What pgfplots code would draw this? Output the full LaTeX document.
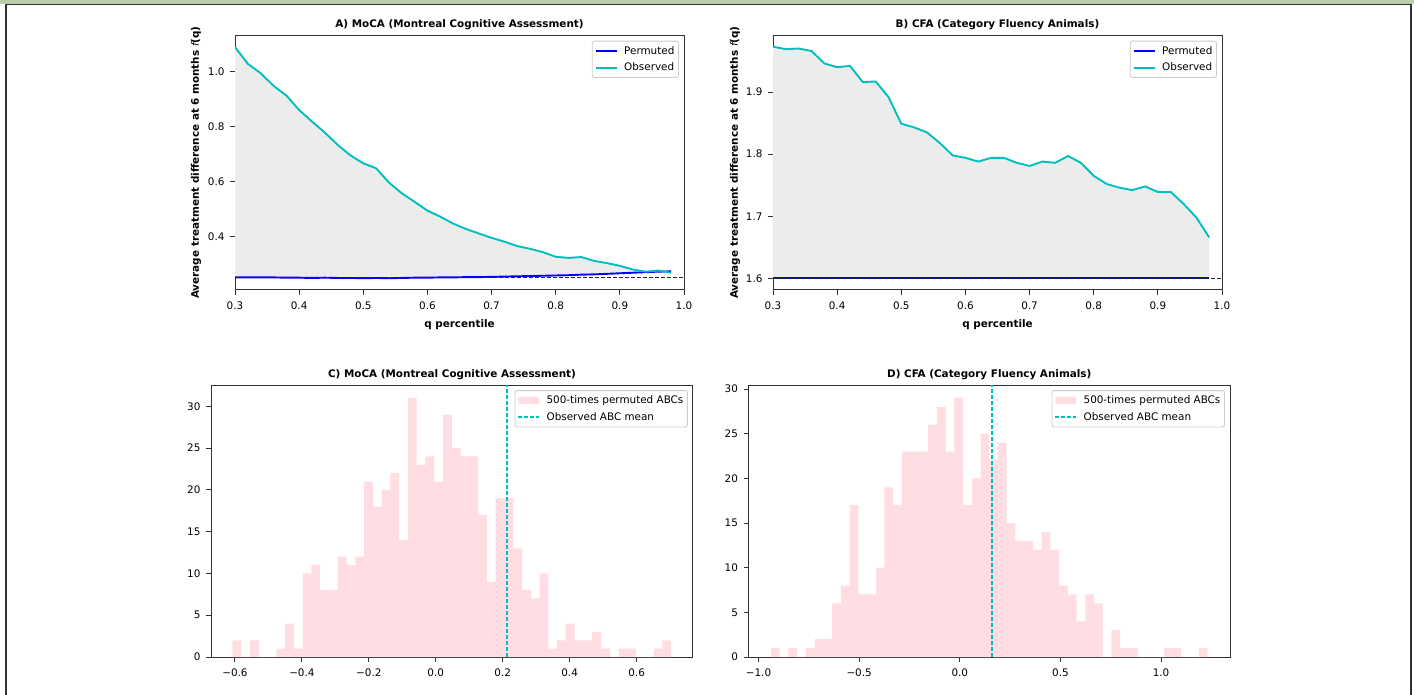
\documentclass[border=0pt]{standalone}
\usepackage{fontspec}
\setmainfont{DejaVu Sans}
\usepackage{pgfplots}
\pgfplotsset{compat=1.18}
\usepackage{pgfplotstable}
\usepgfplotslibrary{fillbetween}

\definecolor{obs}{rgb}{0,0.75,0.75}
\definecolor{perm}{rgb}{0,0,1}
\definecolor{areagray}{RGB}{236,236,236}
\definecolor{histpink}{RGB}{255,221,227}
\definecolor{framegreen}{RGB}{186,206,172}
\definecolor{spine}{RGB}{50,50,50}

\newcommand{\fs}{\fontsize{10.4}{12.5}\selectfont}

% q-curves
\pgfplotstableread{
q    obs    perm
0.30 1.089 0.251
0.32 1.028 0.251
0.34 0.994 0.251
0.36 0.948 0.251
0.38 0.913 0.250
0.40 0.860 0.250
0.42 0.818 0.249
0.44 0.778 0.250
0.46 0.733 0.249
0.48 0.695 0.249
0.50 0.666 0.248
0.52 0.648 0.249
0.54 0.596 0.248
0.56 0.557 0.249
0.58 0.526 0.250
0.60 0.494 0.250
0.62 0.472 0.251
0.64 0.447 0.251
0.66 0.427 0.252
0.68 0.411 0.252
0.70 0.395 0.253
0.72 0.381 0.254
0.74 0.365 0.255
0.76 0.355 0.256
0.78 0.343 0.257
0.80 0.326 0.258
0.82 0.322 0.259
0.84 0.325 0.261
0.86 0.311 0.262
0.88 0.303 0.264
0.90 0.293 0.266
0.92 0.280 0.268
0.94 0.272 0.270
0.96 0.276 0.272
0.98 0.268 0.273
}\tabA

\pgfplotstableread{
q    obs   perm
0.30 1.973 1.600
0.32 1.969 1.600
0.34 1.970 1.600
0.36 1.966 1.600
0.38 1.946 1.600
0.40 1.940 1.600
0.42 1.942 1.600
0.44 1.916 1.600
0.46 1.917 1.600
0.48 1.892 1.600
0.50 1.849 1.600
0.52 1.843 1.600
0.54 1.835 1.600
0.56 1.818 1.600
0.58 1.798 1.600
0.60 1.794 1.600
0.62 1.788 1.600
0.64 1.794 1.600
0.66 1.794 1.600
0.68 1.786 1.600
0.70 1.781 1.600
0.72 1.788 1.600
0.74 1.786 1.600
0.76 1.797 1.600
0.78 1.786 1.600
0.80 1.765 1.600
0.82 1.752 1.600
0.84 1.746 1.600
0.86 1.742 1.600
0.88 1.748 1.600
0.90 1.739 1.600
0.92 1.739 1.600
0.94 1.720 1.600
0.96 1.698 1.600
0.98 1.666 1.600
}\tabB

% histograms: left bin edge, count (last row closes the last bin)
\pgfplotstableread{
edge    n
-0.6075 2
-0.5813 0
-0.5551 2
-0.5288 0
-0.5026 0
-0.4764 1
-0.4502 4
-0.4240 1
-0.3977 10
-0.3715 11
-0.3453 8
-0.3191 8
-0.2929 12
-0.2666 11
-0.2404 12
-0.2142 21
-0.1880 18
-0.1618 20
-0.1355 22
-0.1093 14
-0.0831 31
-0.0569 23
-0.0307 24
-0.0044 21
0.0218 29
0.0480 25
0.0742 24
0.1004 24
0.1267 17
0.1529 9
0.1791 19
0.2053 19
0.2315 13
0.2578 8
0.2840 7
0.3102 10
0.3364 1
0.3626 2
0.3889 4
0.4151 2
0.4413 2
0.4675 3
0.4937 1
0.5200 0
0.5462 1
0.5724 1
0.5986 0
0.6248 0
0.6511 1
0.6773 2
0.7035 0
}\histC

\pgfplotstableread{
edge    n
-0.9379 1
-0.8945 0
-0.8512 1
-0.8078 0
-0.7644 1
-0.7210 2
-0.6777 2
-0.6343 6
-0.5909 8
-0.5476 17
-0.5042 7
-0.4608 7
-0.4174 10
-0.3741 19
-0.3307 17
-0.2873 23
-0.2440 23
-0.2006 23
-0.1572 26
-0.1138 28
-0.0705 23
-0.0271 29
0.0163 17
0.0596 20
0.1030 25
0.1464 22
0.1898 24
0.2331 15
0.2765 13
0.3199 13
0.3633 12
0.4066 14
0.4500 12
0.4934 8
0.5367 7
0.5801 4
0.6235 7
0.6669 6
0.7102 0
0.7536 3
0.7970 1
0.8403 1
0.8837 0
0.9271 0
0.9705 0
1.0138 1
1.0572 1
1.1006 0
1.1439 0
1.1873 1
1.2307 0
}\histD

\pgfplotsset{
  panel/.style={
    scale only axis,
    axis line style={spine, line width=1pt},
    tick style={spine, line width=1pt},
    tick align=outside,
    tick pos=left,
    major tick length=5pt,
    ticklabel style={font=\fs},
    xticklabel style={yshift=-3.7pt},
    yticklabel style={xshift=-2pt},
    title style={font=\fs\bfseries, at={(0.5,1)}, anchor=base, yshift=1.6pt},
    label style={font=\fs\bfseries},
    legend cell align=left,
    legend style={font=\fs, draw=black!20, line width=0.8pt, rounded corners=2pt,
      fill=white, at={(1,1)}, anchor=north east, xshift=-5.2pt, yshift=-5.2pt,
      inner xsep=2.5pt, inner ysep=3.5pt, nodes={inner sep=1.5pt}, row sep=4.5pt},
    legend image code/.code={\draw[##1] (0pt,0pt) -- (20.8pt,0pt); \path (26pt,0pt);},
  },
  qpanel/.style={
    panel, width=449pt, height=254pt,
    xmin=0.3, xmax=1.0,
    xtick={0.3,0.4,0.5,0.6,0.7,0.8,0.9,1.0},
    xticklabels={0.3,0.4,0.5,0.6,0.7,0.8,0.9,1.0},
    xlabel={q percentile},
    ylabel={Average treatment difference at 6 months {\mdseries\itshape f}(q)},
    xlabel style={at={(axis description cs:0.5,0)}, anchor=base, yshift=-37.7pt},
  },
  hpanel/.style={
    panel, height=272pt, ymin=0,
    ytick={0,5,10,15,20,25,30},
    yticklabels={0,5,10,15,20,25,30},
  },
  histbars/.style={
    const plot mark left, fill=histpink, draw=none,
    legend image code/.code={\fill[histpink] (0pt,-3.65pt) rectangle (20.8pt,3.65pt); \path (26pt,0pt);},
  },
}

\begin{document}
\begin{tikzpicture}[x=1pt,y=1pt]
\fill[framegreen] (0,0) rectangle (1414,-4);
\draw[spine, line width=1.4pt] (6,-700) -- (6,-4.7) -- (1411,-4.7) -- (1411,-700);

% A
\begin{axis}[qpanel, at={(235pt,-35.5pt)}, anchor=north west,
  ymin=0.207, ymax=1.131,
  ytick={0.4,0.6,0.8,1.0}, yticklabels={0.4,0.6,0.8,1.0},
  ylabel style={at={(axis description cs:-0.0802,0.5)}, anchor=base},
  title={A) MoCA (Montreal Cognitive Assessment)}]
\addplot[perm, line width=1.9pt, name path=permA] table[x=q, y=perm]{\tabA};
\addlegendentry{Permuted}
\addplot[obs, line width=1.9pt, name path=obsA] table[x=q, y=obs]{\tabA};
\addlegendentry{Observed}
\addplot[fill=areagray, draw=none, forget plot] fill between[of=obsA and permA];
\addplot[black!85, line width=1pt, dash pattern=on 4pt off 2pt, forget plot]
  coordinates {(0.3,0.2495) (1.0,0.2495)};
\end{axis}

% B
\begin{axis}[qpanel, at={(773pt,-35.5pt)}, anchor=north west,
  ymin=1.582, ymax=1.991,
  ytick={1.6,1.7,1.8,1.9}, yticklabels={1.6,1.7,1.8,1.9},
  ylabel style={at={(axis description cs:-0.078,0.5)}, anchor=base},
  title={B) CFA (Category Fluency Animals)}]
\addplot[perm, line width=1.9pt, name path=permB] table[x=q, y=perm]{\tabB};
\addlegendentry{Permuted}
\addplot[obs, line width=1.9pt, name path=obsB] table[x=q, y=obs]{\tabB};
\addlegendentry{Observed}
\addplot[fill=areagray, draw=none, forget plot] fill between[of=obsB and permB];
\addplot[black!85, line width=1pt, dash pattern=on 4pt off 2pt, forget plot]
  coordinates {(0.3,1.6) (1.0,1.6)};
\end{axis}

% C
\begin{axis}[hpanel, at={(211pt,-385pt)}, anchor=north west, width=482pt,
  xmin=-0.6715, xmax=0.7685, ymax=32.55,
  xtick={-0.6,-0.4,-0.2,0,0.2,0.4,0.6},
  xticklabels={−0.6,−0.4,−0.2,0.0,0.2,0.4,0.6},
  title={C) MoCA (Montreal Cognitive Assessment)}]
\addplot[histbars] table[x=edge, y=n]{\histC} \closedcycle;
\addlegendentry{500-times permuted ABCs}
\addplot[obs, line width=1.6pt, dash pattern=on 4pt off 2pt] coordinates {(0.2128,0) (0.2128,32.55)};
\addlegendentry{Observed ABC mean}
\end{axis}

% D
\begin{axis}[hpanel, at={(748.5pt,-385pt)}, anchor=north west, width=481.5pt,
  xmin=-1.0497, xmax=1.3425, ymax=30.45,
  xtick={-1,-0.5,0,0.5,1},
  xticklabels={−1.0,−0.5,0.0,0.5,1.0},
  title={D) CFA (Category Fluency Animals)}]
\addplot[histbars] table[x=edge, y=n]{\histD} \closedcycle;
\addlegendentry{500-times permuted ABCs}
\addplot[obs, line width=1.6pt, dash pattern=on 4pt off 2pt] coordinates {(0.1588,0) (0.1588,30.45)};
\addlegendentry{Observed ABC mean}
\end{axis}

\pgfresetboundingbox
\path[use as bounding box] (0,0) rectangle (1414,-694);
\end{tikzpicture}
\end{document}
